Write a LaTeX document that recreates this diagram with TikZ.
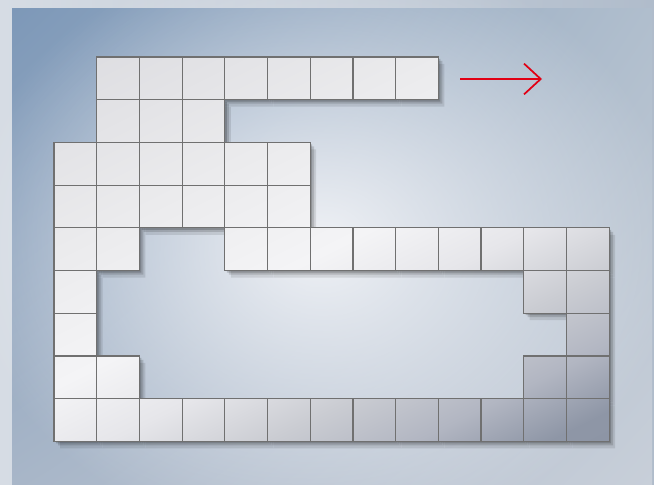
\documentclass[tikz,border=0pt]{standalone}
\usetikzlibrary{arrows.meta,fadings,shadings}
\definecolor{frameL}{RGB}{214,220,228}
\definecolor{frameR}{RGB}{176,188,203}
\definecolor{panelTL}{RGB}{125,152,184}
\definecolor{panelTR}{RGB}{176,190,205}
\definecolor{panelBL}{RGB}{168,182,200}
\definecolor{panelBR}{RGB}{200,207,217}
\definecolor{glowC}{RGB}{240,242,246}
\definecolor{cellgray}{RGB}{112,112,112}
\definecolor{arrowred}{RGB}{225,0,20}
\definecolor{tileA}{RGB}{220,220,224}
\definecolor{tileB}{RGB}{235,235,237}
\definecolor{tileC}{RGB}{244,244,246}
\definecolor{tileD}{RGB}{230,230,234}
\definecolor{tileE}{RGB}{202,204,210}
\definecolor{tileF}{RGB}{178,182,194}
\definecolor{tileG}{RGB}{142,150,166}
\definecolor{tileH}{RGB}{132,140,156}
\pgfdeclarehorizontalshading{tileshade}{100bp}{color(0bp)=(tileA); color(25bp)=(tileA);
  color(40bp)=(tileB); color(50bp)=(tileC); color(56bp)=(tileD); color(62bp)=(tileE);
  color(67.5bp)=(tileF); color(72.5bp)=(tileG); color(100bp)=(tileH)}
\tikzfading[name=glowfade, inner color=transparent!0, outer color=transparent!100]
\newcommand{\tilerows}{0/1/8,1/1/3,2/0/5,3/0/5,4/0/1,4/4/12,5/0/0,5/11/12,6/0/0,6/12/12,7/0/1,7/11/12,8/0/12}
\newcommand{\tilew}{42.7}

\begin{document}
\begin{tikzpicture}[x=0.75pt,y=-0.75pt,
  cellline/.style={draw=cellgray,line width=0.9pt},
  moveArrow/.style={draw=arrowred,line width=1.3pt,
    -{Straight Barb[length=12.5pt,width=23pt,line width=1.3pt]}}]
% ================= frame and panel =================
\useasboundingbox (0,0) rectangle (654,485);
\shade[left color=frameL,right color=frameR] (0,0) rectangle (654,485);
\shade[upper left=panelTL,upper right=panelTR,lower left=panelBL,lower right=panelBR]
  (12,9) rectangle (652,485);
\fill[glowC,path fading=glowfade] (320,245) ellipse [x radius=360,y radius=300];
% ================= tile shadow =================
\foreach \dx/\dy/\op in {6/7/0.10,4/4/0.14,2/2/0.18}{
  \begin{scope}[transparency group,opacity=\op]
    \foreach \r/\a/\b in \tilerows
      \foreach \c in {\a,...,\b}
        \fill[black] ({54+\tilew*\c+\dx},{57+\tilew*\r+\dy}) rectangle ++(\tilew,\tilew);
  \end{scope}
}
% ================= tiles =================
\begin{scope}
  \clip \foreach \r/\a/\b in \tilerows {
    \foreach \c in {\a,...,\b} { ({54+\tilew*\c},{57+\tilew*\r}) rectangle ++(\tilew,\tilew) } };
  \shade[shading=tileshade,shading angle=-63.43] (30,-50) rectangle (630,550);
\end{scope}
\foreach \r/\a/\b in \tilerows
  \foreach \c in {\a,...,\b}
    \draw[cellline] ({54+\tilew*\c},{57+\tilew*\r}) rectangle ++(\tilew,\tilew);
% ================= move arrow =================
\coordinate (arrowtail) at (460,79);
\coordinate (arrowtip) at (542,79);
\draw[moveArrow] (arrowtail) -- (arrowtip);
\end{tikzpicture}
\end{document}
